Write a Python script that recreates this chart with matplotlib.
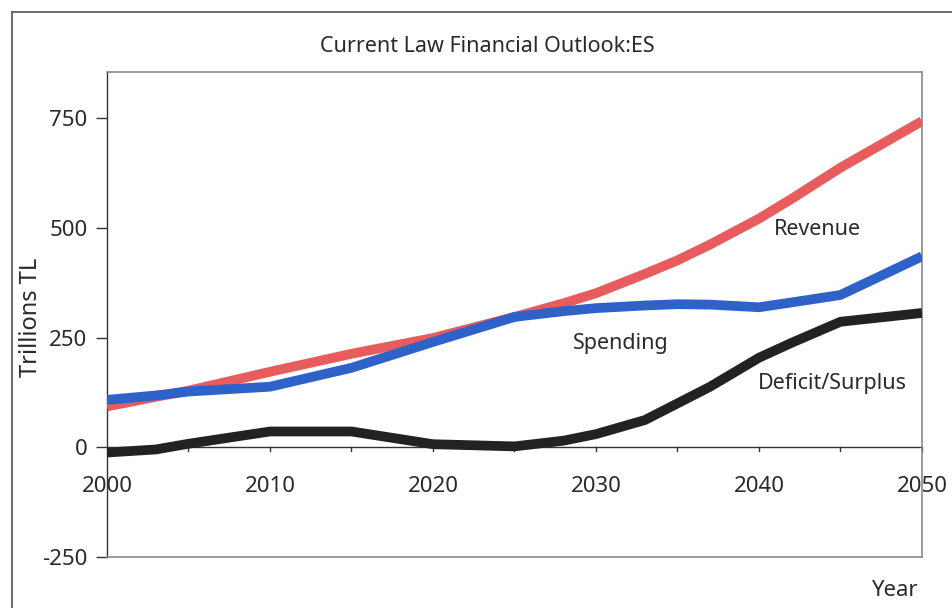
import matplotlib
matplotlib.use("Agg")
import matplotlib.pyplot as plt
from matplotlib.lines import Line2D

plt.rcParams['font.family'] = ['Noto Sans', 'DejaVu Sans']

# Projection years and series values (trillions TL)
years = [2000, 2003, 2005, 2010, 2015, 2020, 2025, 2028, 2030, 2033, 2035,
         2037, 2040, 2042, 2045, 2050]
revenue = [93, 115, 129, 172, 213, 249, 297, 328, 351, 395, 426, 462, 521,
           566, 637, 743]
spending = [108, 118, 127, 138, 181, 240, 297, 310, 317, 323, 326, 325, 319,
            330, 347, 435]
balance = [-12, -5, 8, 36, 36, 7, 2, 15, 30, 62, 100, 138, 204, 238, 286, 306]

x_ticks = [2000, 2010, 2020, 2030, 2040, 2050]
y_ticks = [-250, 0, 250, 500, 750]

TXT = '#2a2a2a'

fig = plt.figure(figsize=(9.53, 6.08), dpi=100)
ax = fig.add_axes([107 / 953, 51 / 608, 815 / 953, 485 / 608])

ax.plot(years, revenue, color='#e95c5e', lw=7, solid_capstyle='butt',
        solid_joinstyle='round', zorder=3)
ax.plot(years, spending, color='#2f62c8', lw=7, solid_capstyle='butt',
        solid_joinstyle='round', zorder=4)
ax.plot(years, balance, color='#222222', lw=7, solid_capstyle='butt',
        solid_joinstyle='round', zorder=5)

ax.set_xlim(2000, 2050)
ax.set_ylim(-250, 855)

# zero line acts as the category axis
ax.axhline(0, color='#333333', lw=1.0, zorder=2)
for yr in range(2005, 2051, 5):
    ax.plot([yr, yr], [0, -9], color='#333333', lw=1.0, zorder=2, clip_on=False)

ax.set_xticks([])
ax.set_yticks(y_ticks)
ax.set_yticklabels([str(v) for v in y_ticks], fontsize=16, color=TXT)
ax.tick_params(axis='y', length=8, width=1, color='#333333', pad=6)

for yr in x_ticks:
    ax.text(yr, -66, str(yr), ha='center', va='top', fontsize=16,
            color=TXT, zorder=1)

for side in ['top', 'right', 'bottom']:
    ax.spines[side].set_color('#8a8a8a')
    ax.spines[side].set_linewidth(1.2)
ax.spines['left'].set_color('#333333')
ax.spines['left'].set_linewidth(1.0)

ax.set_ylabel('Trillions TL', fontsize=17, color=TXT)
ax.yaxis.set_label_coords(-0.079, 0.495)

ax.text(2043.6, 497, 'Revenue', fontsize=15.5, color=TXT, ha='center', va='center')
ax.text(2031.5, 236, 'Spending', fontsize=15.5, color=TXT, ha='center', va='center')
ax.text(2044.5, 146, 'Deficit/Surplus', fontsize=15.5, color=TXT, ha='center', va='center')

fig.text(487 / 953, 1 - 47 / 608, 'Current Law Financial Outlook:ES',
         fontsize=15.5, color=TXT, ha='center', va='center')
fig.text(894 / 953, 1 - 590 / 608, 'Year', fontsize=16, color=TXT,
         ha='center', va='center')

# outer chart frame
fig.add_artist(Line2D([12 / 953, 12 / 953], [0, 1 - 12 / 608],
                      transform=fig.transFigure, color='#555555', lw=1.2))
fig.add_artist(Line2D([12 / 953, 1], [1 - 12 / 608, 1 - 12 / 608],
                      transform=fig.transFigure, color='#555555', lw=1.2))

fig.savefig('out.png', dpi=100)
